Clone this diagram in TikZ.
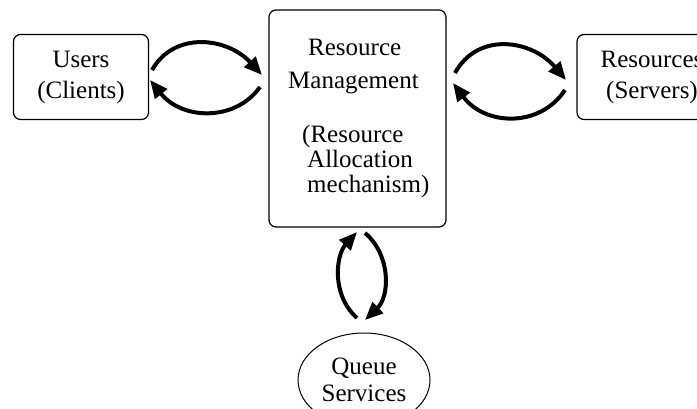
\documentclass[tikz,border=0pt]{standalone}
\usepackage{fontspec}
\setmainfont{Liberation Serif}
\usetikzlibrary{arrows.meta,shapes.geometric}
\begin{document}
\begin{tikzpicture}[x=1pt,y=-1pt,
  box/.style={draw, line width=1.2pt, rounded corners=7pt, inner sep=0pt,
              align=center, font=\fontsize{25}{31}\selectfont},
  rmline/.style={inner sep=0pt, anchor=base west, font=\fontsize{25}{29}\selectfont},
  flow/.style={line width=4pt, -{Triangle[length=18pt,width=15pt]}},
]
\useasboundingbox (0,0) rectangle (697,408);
\clip (0,0) rectangle (697,408);

% boxes
\node[box, minimum width=135pt, minimum height=85pt] (users) at (81,77) {Users\\(Clients)};
\node[box, minimum width=177pt, minimum height=217pt] (rm) at (357.5,118.5) {};
\node[box, minimum width=150pt, minimum height=85pt] (res) at (652,77) {Resources\\(Servers)};
\node[draw, ellipse, line width=1pt, minimum width=132pt, minimum height=94pt,
      inner sep=0pt, align=center, font=\fontsize{25}{27}\selectfont]
      (queue) at (364,380) {Queue\\Services};

% text of the resource management box
\node[rmline] (rm1) at (308,55)  {Resource};
\node[rmline] (rm2) at (288,88)  {Management};
\node[rmline] (rm3) at (302,142) {(Resource};
\node[rmline] (rm4) at (307,167) {Allocation};
\node[rmline] (rm5) at (307,192) {mechanism)};

% arrow end points
\coordinate (ua) at (152,70);  \coordinate (ub) at (262,75);
\coordinate (uc) at (260,87);  \coordinate (ud) at (150,80);
\coordinate (ra) at (455,73);  \coordinate (rb) at (566,80);
\coordinate (rc) at (565,90);  \coordinate (rd) at (453,83);
\coordinate (va) at (357,318); \coordinate (vb) at (357,232);
\coordinate (vc) at (365,233); \coordinate (vd) at (365,320);

% users <-> resource management
\draw[flow] (ua) .. controls (175,30) and (228,38) .. (ub);
\draw[flow] (uc) .. controls (235,122) and (182,120) .. (ud);
% resource management <-> resources
\draw[flow] (ra) .. controls (478,31) and (532,40) .. (rb);
\draw[flow] (rc) .. controls (540,128) and (485,126) .. (rd);
% queue services <-> resource management
\draw[flow] (va) .. controls (331,295) and (336,255) .. (vb);
\draw[flow] (vc) .. controls (391,255) and (390,296) .. (vd);
\end{tikzpicture}
\end{document}
